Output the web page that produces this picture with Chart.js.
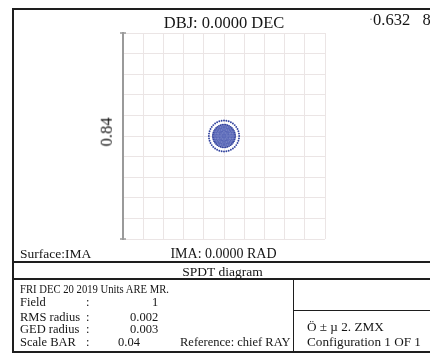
<!DOCTYPE html>
<html>
<head>
<meta charset="utf-8">
<title>SPDT diagram</title>
<script src="https://cdn.jsdelivr.net/npm/chart.js@4/dist/chart.umd.min.js"></script>
<style>
  html, body { margin: 0; padding: 0; background: #fff; }
  #wrap { position: relative; width: 430px; height: 355px; overflow: hidden; background: #fff; }
  #spot { position: absolute; left: 0; top: 0; }
  .t { position: absolute; font-family: "Liberation Serif", "Times New Roman", serif; color: #151515; line-height: 1; white-space: pre; }
  .c { transform: translateX(-50%); }
  .ln { position: absolute; background: #1e1e1e; }
</style>
</head>
<body>
<div id="wrap">
  <canvas id="spot" width="430" height="355"></canvas>

  <!-- frame and table rules -->
  <div class="ln" style="left:12px;top:8px;width:2px;height:345px;"></div>
  <div class="ln" style="left:12px;top:8px;width:430px;height:2px;"></div>
  <div class="ln" style="left:12px;top:351px;width:430px;height:2px;"></div>
  <div class="ln" style="left:12px;top:261px;width:430px;height:1.6px;"></div>
  <div class="ln" style="left:12px;top:278px;width:430px;height:1.6px;"></div>
  <div class="ln" style="left:292.5px;top:278px;width:1.6px;height:74px;"></div>
  <div class="ln" style="left:292.5px;top:310px;width:140px;height:1.4px;"></div>

  <!-- header texts -->
  <div class="t c" style="left:224px;top:14.5px;font-size:16.5px;">DBJ: 0.0000 DEC</div>
  <div class="t" style="left:369px;top:11.5px;font-size:16.5px;"><span style="color:#8a8a8a;font-size:12px;vertical-align:2px;">·</span>0.632   8</div>
  <div class="t" style="left:107px;top:132px;font-size:16.5px;transform:translate(-50%,-50%) rotate(-90deg);">0.84</div>

  <div class="t" style="left:20px;top:247px;font-size:13.5px;">Surface:IMA</div>
  <div class="t c" style="left:223.5px;top:247px;font-size:14px;">IMA: 0.0000 RAD</div>
  <div class="t c" style="left:222.5px;top:264.5px;font-size:13.5px;">SPDT diagram</div>

  <!-- summary block -->
  <div class="t" style="left:20px;top:281.5px;font-size:13px;transform:scaleX(0.82);transform-origin:0 0;">FRI DEC 20 2019 Units ARE MR.</div>
  <div class="t" style="left:20px;top:295.5px;font-size:12.5px;">Field</div>
  <div class="t" style="left:86px;top:295.5px;font-size:12.5px;">:</div>
  <div class="t" style="left:152px;top:295.5px;font-size:12.5px;">1</div>
  <div class="t" style="left:20px;top:310.5px;font-size:12.5px;">RMS radius</div>
  <div class="t" style="left:86px;top:310.5px;font-size:12.5px;">:</div>
  <div class="t" style="left:130px;top:310.5px;font-size:12.5px;">0.002</div>
  <div class="t" style="left:20px;top:323px;font-size:12.5px;">GED radius</div>
  <div class="t" style="left:86px;top:323px;font-size:12.5px;">:</div>
  <div class="t" style="left:130px;top:323px;font-size:12.5px;">0.003</div>
  <div class="t" style="left:20px;top:336px;font-size:12.5px;">Scale BAR</div>
  <div class="t" style="left:86px;top:336px;font-size:12.5px;">:</div>
  <div class="t" style="left:118px;top:336px;font-size:12.5px;">0.04</div>
  <div class="t" style="left:180px;top:336px;font-size:12.5px;">Reference: chief RAY</div>

  <div class="t" style="left:307px;top:320px;font-size:13.2px;">Ö ± µ 2. ZMX</div>
  <div class="t" style="left:307px;top:335px;font-size:13.2px;">Configuration 1 OF 1</div>
</div>

<script>
// Plot window (image plane, same units as the scale bar) and grid spacing
const axisMin = -0.02;
const axisMax = 0.02;
const gridStep = 0.004;

// Spot centre (chief ray on the image surface)
const spotCenter = [0.0, 0.0];

// Ray rings of the spot: radius of each ring and number of rays on it
const ringRadii  = [0.0030, 0.0022, 0.0019, 0.0016, 0.0013, 0.0010, 0.0007, 0.0004, 0.0001];
const ringCounts = [40,     40,     34,     30,     24,     20,     14,     10,     6];
const ringColors = ['#33449f', '#34449f', '#5e6cba', '#5867b7', '#6371bd', '#5867b7', '#6674be', '#5e6cba', '#6a78c0'];

function ringPoints(r, n) {
  const pts = [];
  for (let k = 0; k < n; k++) {
    const a = 2 * Math.PI * k / n;
    pts.push({ x: spotCenter[0] + r * Math.cos(a), y: spotCenter[1] + r * Math.sin(a) });
  }
  return pts;
}

const datasets = ringRadii.map((r, i) => ({
  data: ringPoints(r, ringCounts[i]),
  pointRadius: i < 2 ? 0.95 : 1.1,
  pointBorderWidth: 0,
  pointBackgroundColor: ringColors[i],
  showLine: false
}));

// Scale bar: end caps on the left border of the plot
const scaleBarCaps = {
  id: 'scaleBarCaps',
  afterDraw(chart) {
    const { ctx, chartArea } = chart;
    ctx.save();
    ctx.strokeStyle = '#9a9a9a';
    ctx.lineWidth = 1.5;
    ctx.beginPath();
    ctx.moveTo(chartArea.left - 3, chartArea.top);
    ctx.lineTo(chartArea.left + 3, chartArea.top);
    ctx.moveTo(chartArea.left - 3, chartArea.bottom);
    ctx.lineTo(chartArea.left + 3, chartArea.bottom);
    ctx.stroke();
    ctx.restore();
  }
};

new Chart(document.getElementById('spot'), {
  type: 'scatter',
  data: { datasets },
  options: {
    responsive: false,
    animation: false,
    events: [],
    layout: { padding: { left: 123, top: 33, right: 105, bottom: 116 } },
    plugins: { legend: { display: false }, tooltip: { enabled: false }, title: { display: false } },
    scales: {
      x: {
        type: 'linear', min: axisMin, max: axisMax,
        ticks: { display: false, stepSize: gridStep },
        grid: { color: '#ebe5e5', lineWidth: 1, drawTicks: false },
        border: { display: false }
      },
      y: {
        type: 'linear', min: axisMin, max: axisMax,
        ticks: { display: false, stepSize: gridStep },
        grid: { color: '#ebe5e5', lineWidth: 1, drawTicks: false },
        border: { display: true, color: '#9a9a9a', width: 2 }
      }
    }
  },
  plugins: [scaleBarCaps]
});
</script>
</body>
</html>
